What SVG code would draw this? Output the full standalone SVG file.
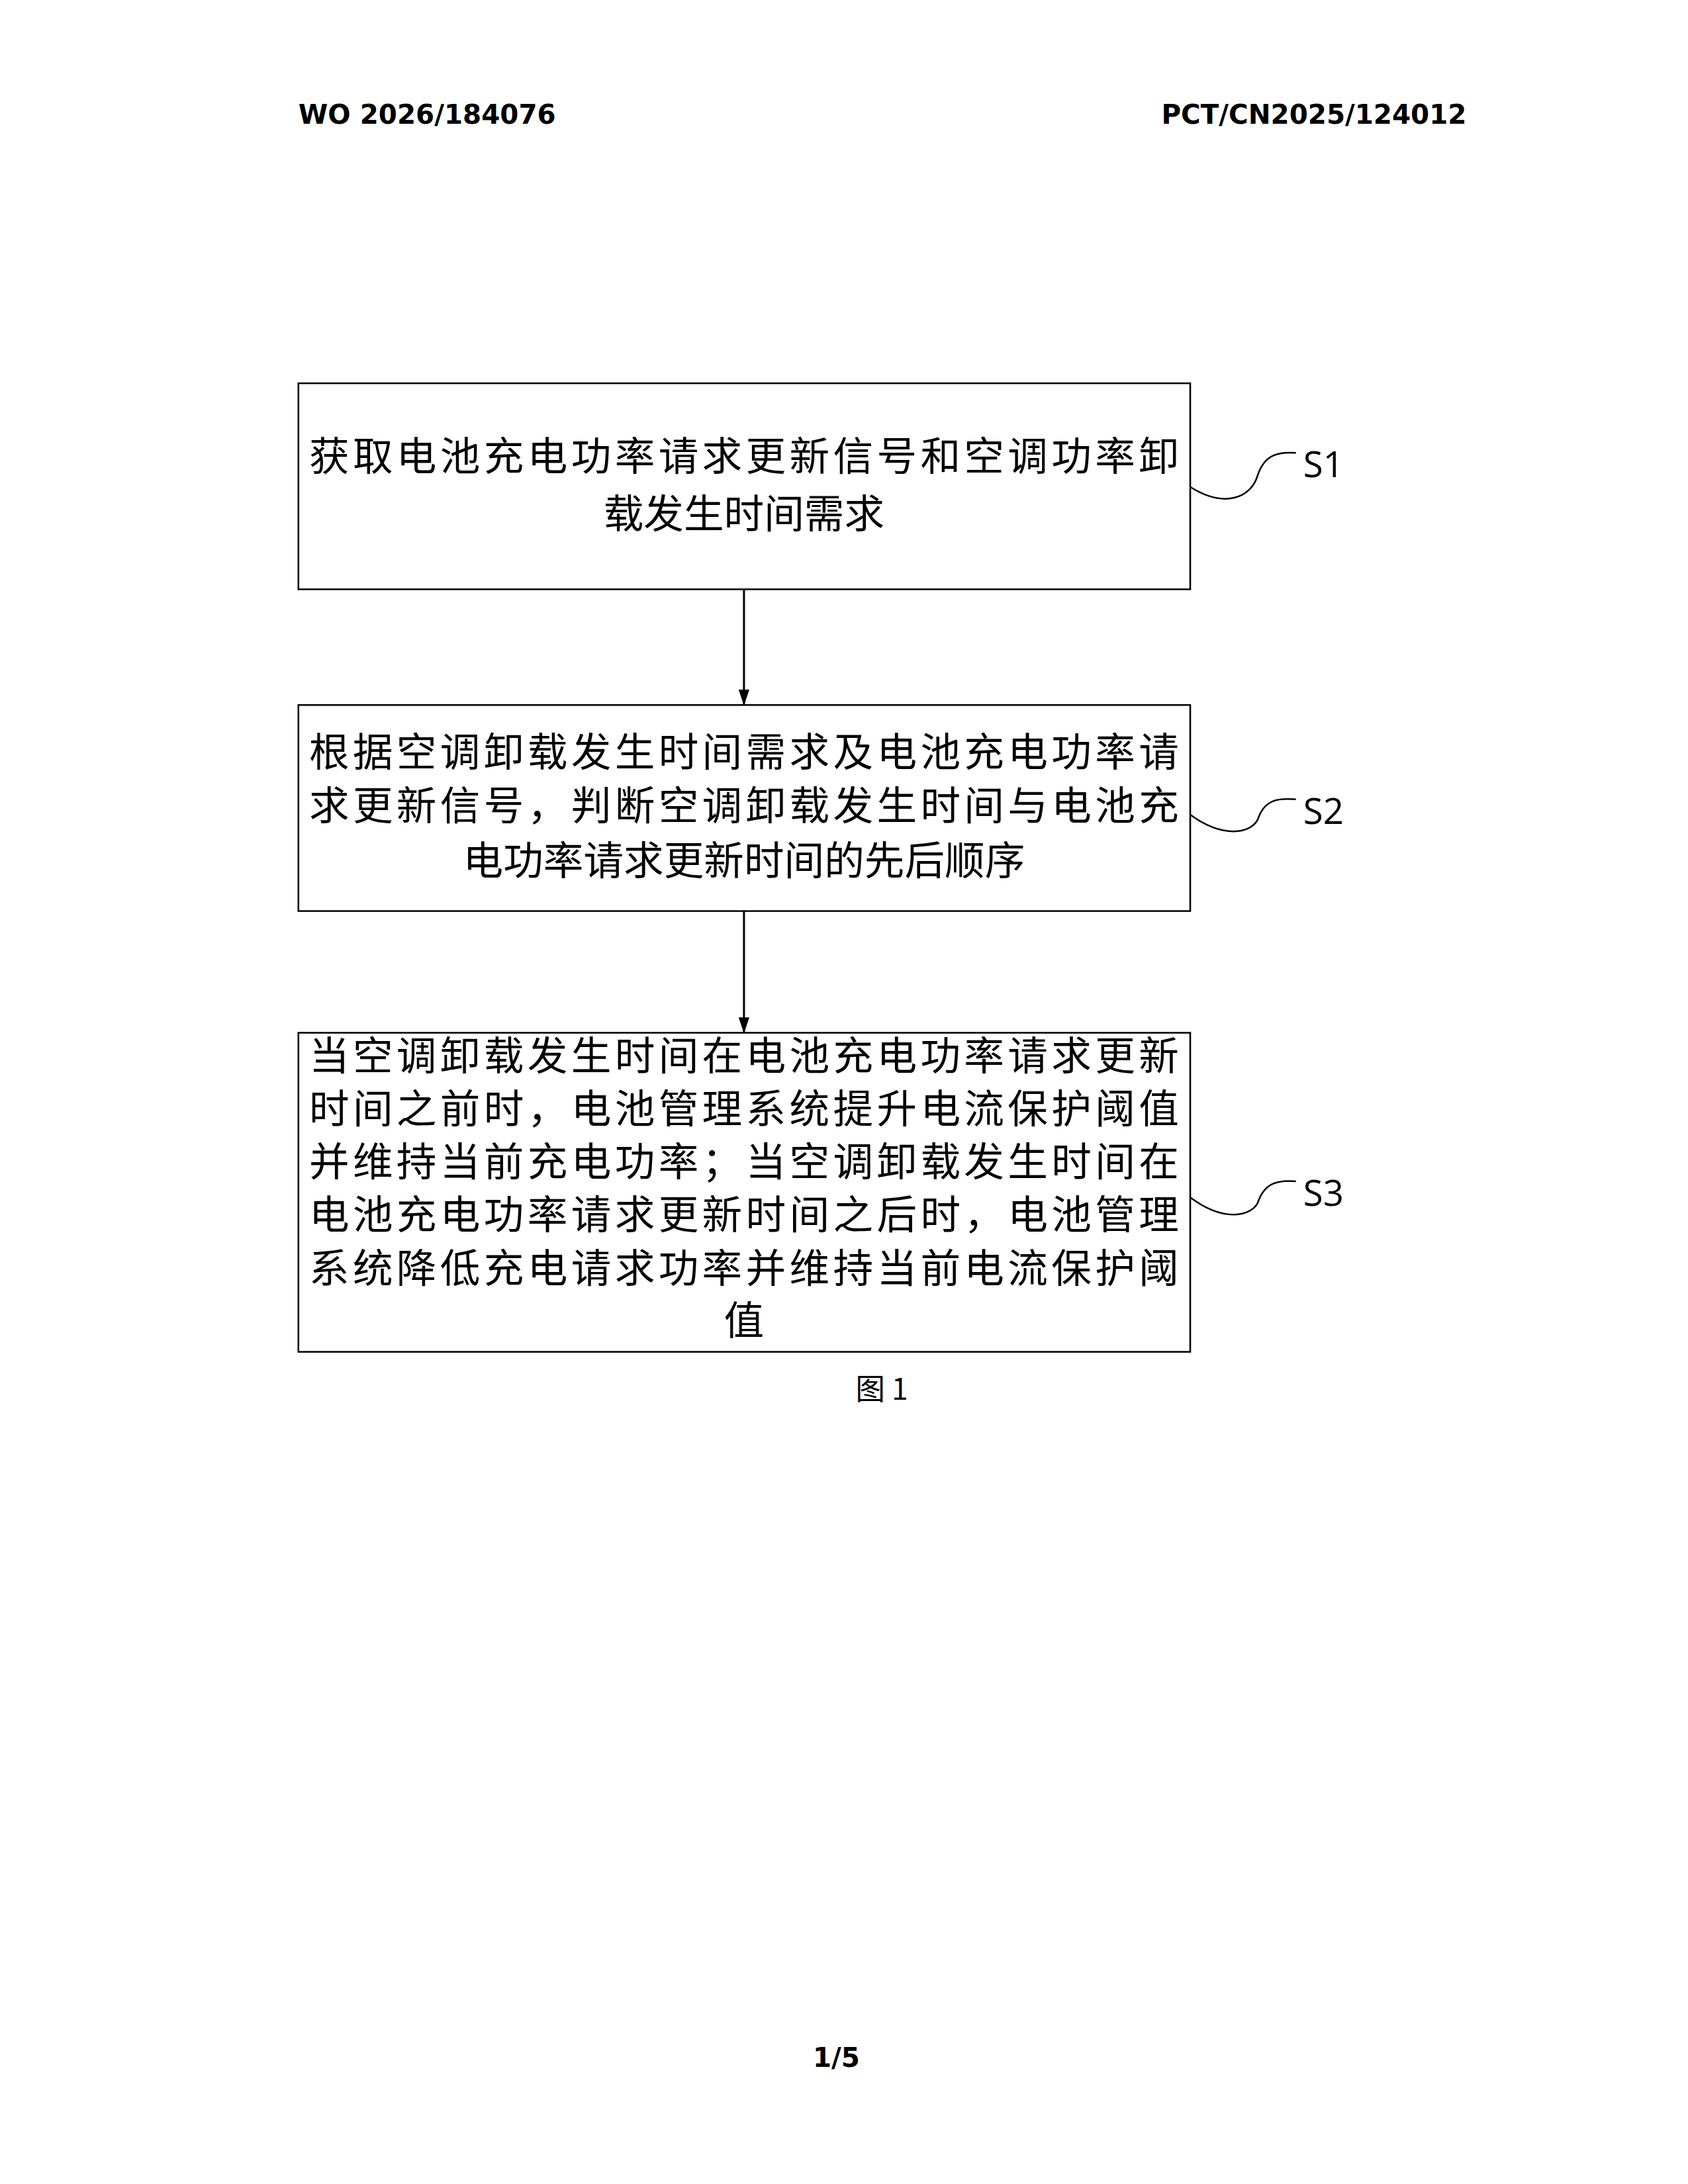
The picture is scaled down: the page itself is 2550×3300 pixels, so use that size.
<svg xmlns="http://www.w3.org/2000/svg" width="2550" height="3300" viewBox="0 0 2550 3300">
<style>
.hd{font-family:"DejaVu Sans",sans-serif;font-weight:bold;font-size:40px;fill:#000}
.bx{fill:#fff;stroke:#000;stroke-width:2.5}
.t{font-family:"Noto Sans CJK SC",sans-serif;font-size:60px;fill:#000;text-anchor:middle}
.lb{font-family:"Open Sans","DejaVu Sans",sans-serif;font-size:54px;fill:#000}
.sq{fill:none;stroke:#000;stroke-width:2.5}
.ar{stroke:#000;stroke-width:3;marker-end:url(#ah)}
</style>
<defs><marker id="ah" markerWidth="24" markerHeight="24" refX="22" refY="10" orient="auto" markerUnits="userSpaceOnUse" viewBox="0 0 24 20"><path d="M0,2 L24,10 L0,18 z" fill="#000"/></marker></defs>
<rect width="2550" height="3300" fill="#fff"/>
<g transform="scale(1.0107)">
<text class="hd" x="446" y="185">WO 2026/184076</text>
<text class="hd" x="2192" y="185" text-anchor="end">PCT/CN2025/124012</text>
<g id="n1">
<rect class="bx" x="446" y="573" width="1333" height="308"/>
<text class="t" x="1112" y="703" textLength="1300">获取电池充电功率请求更新信号和空调功率卸</text>
<text class="t" x="1112" y="790">载发生时间需求</text>
<path class="sq" d="M1779,728 C1830,760 1870,745 1880,710 C1890,680 1910,675 1937,677"/>
<text class="lb" x="1948" y="713">S1</text>
</g>
<g id="n2">
<rect class="bx" x="446" y="1054" width="1333" height="308"/>
<text class="t" x="1112" y="1146" textLength="1300">根据空调卸载发生时间需求及电池充电功率请</text>
<text class="t" x="1112" y="1226" textLength="1300">求更新信号，判断空调卸载发生时间与电池充</text>
<text class="t" x="1112" y="1308">电功率请求更新时间的先后顺序</text>
<path class="sq" d="M1779,1218 C1830,1255 1870,1245 1880,1225 C1890,1195 1910,1193 1937,1195"/>
<text class="lb" x="1948" y="1232">S2</text>
</g>
<g id="n3">
<rect class="bx" x="446" y="1544" width="1333" height="477"/>
<text class="t" x="1112" y="1600" textLength="1300">当空调卸载发生时间在电池充电功率请求更新</text>
<text class="t" x="1112" y="1679" textLength="1300">时间之前时，电池管理系统提升电流保护阈值</text>
<text class="t" x="1112" y="1758" textLength="1300">并维持当前充电功率；当空调卸载发生时间在</text>
<text class="t" x="1112" y="1837" textLength="1300">电池充电功率请求更新时间之后时，电池管理</text>
<text class="t" x="1112" y="1917" textLength="1300">系统降低充电请求功率并维持当前电流保护阈</text>
<text class="t" x="1112" y="1996">值</text>
<path class="sq" d="M1779,1790 C1830,1828 1870,1818 1880,1798 C1890,1768 1910,1764 1937,1766"/>
<text class="lb" x="1948" y="1803">S3</text>
</g>
<g id="connectors">
<line class="ar" x1="1112" y1="881" x2="1112" y2="1053"/>
<line class="ar" x1="1112" y1="1362" x2="1112" y2="1543"/>
</g>
<text x="1318" y="2093" font-family="Noto Sans CJK SC,serif" font-size="44" text-anchor="middle">图 1</text>
<text class="hd" x="1250" y="3090" text-anchor="middle" font-size="36">1/5</text>
</g>
</svg>
